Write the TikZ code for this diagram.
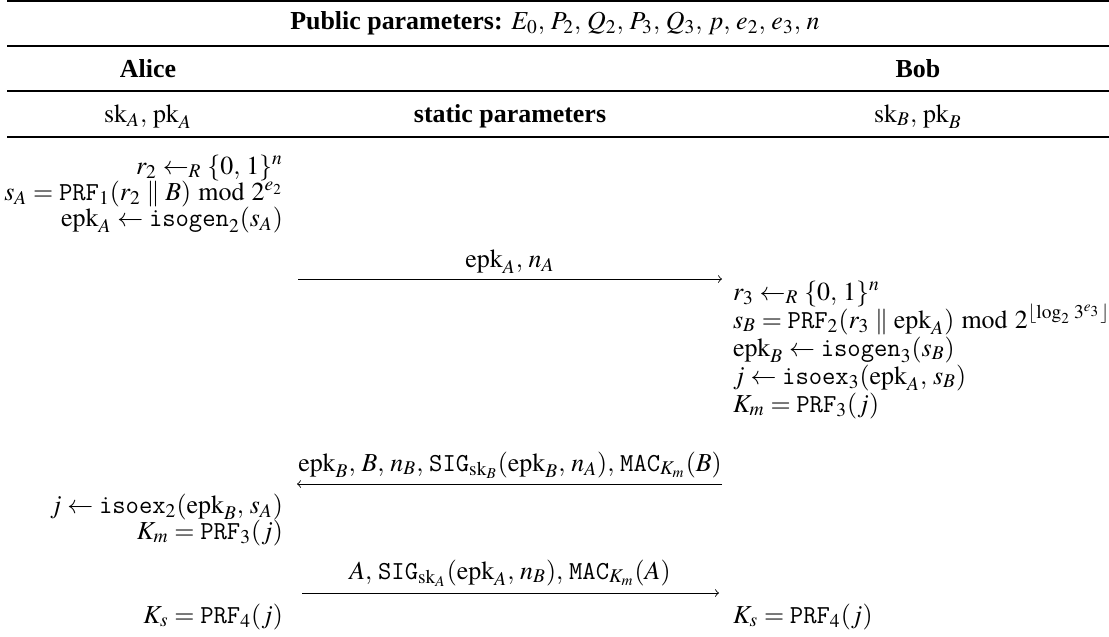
\documentclass[tikz,border=0pt]{standalone}
\usepackage{mathptmx}
\usepackage{fontspec}
\setmainfont{Liberation Serif}
\setmonofont{Latin Modern Mono}[Scale=1.1]
\newcommand{\tfn}[1]{\mathtt{#1}}
\newcommand{\rmn}[1]{\mathrm{#1}}
\newcommand{\commasp}{\thinmuskip=4mu\relax}
\begin{document}
\begin{tikzpicture}[
			x=0.463pt, y=-0.463pt,
			every node/.style={inner sep=0pt, outer sep=0pt, font=\fontsize{12}{12}\selectfont\commasp},
			ctr/.style={anchor=base},
			lft/.style={anchor=base east},
			rgt/.style={anchor=base west},
			toprl/.style={line width=0.8pt},
			midrl/.style={line width=0.5pt},
			msg/.style={->, line width=0.4pt},
		]
		\useasboundingbox (0,0) rectangle (1109,636);

		% rules
		\draw[toprl] (7,1) -- (1109,1);
		\draw[midrl] (7,46) -- (1109,46);
		\draw[midrl] (7,91) -- (1109,91);
		\draw[midrl] (7,137) -- (1109,137);

		% header
		\node[ctr] (pub) at (555,29) {\textbf{Public parameters:} $E_0, P_2, Q_2, P_3, Q_3, p, e_2, e_3, n$};
		\node[ctr] (alice) at (148,77) {\textbf{Alice}};
		\node[ctr] (bob) at (918,77) {\textbf{Bob}};
		\node[ctr] (skA) at (148,122) {$\rmn{sk}_A, \rmn{pk}_A$};
		\node[ctr] (stat) at (510,122) {\textbf{static parameters}};
		\node[ctr] (skB) at (918,122) {$\rmn{sk}_B, \rmn{pk}_B$};

		% Alice, first block
		\node[lft] (a1) at (283,174) {$r_2 \leftarrow_R \{0, 1\}^n$};
		\node[lft] (a2) at (283,200) {$s_A = \tfn{PRF}_1(r_2 \,\|\, B) \bmod 2^{e_2}$};
		\node[lft] (a3) at (283,226) {$\rmn{epk}_A \leftarrow \tfn{isogen}_2(s_A)$};

		% first message
		\coordinate (m1s) at (298,279);
		\coordinate (m1e) at (722,279);
		\node[ctr] (l1) at (510,267) {$\rmn{epk}_A, n_A$};
		\draw[msg] (m1s) -- (m1e);

		% Bob
		\node[rgt] (b1) at (733,300) {$r_3 \leftarrow_R \{0, 1\}^n$};
		\node[rgt] (b2) at (733,328) {$s_B = \tfn{PRF}_2(r_3 \,\|\, \rmn{epk}_A) \bmod 2^{\lfloor \log_2 3^{e_3} \rfloor}$};
		\node[rgt] (b3) at (733,356) {$\rmn{epk}_B \leftarrow \tfn{isogen}_3(s_B)$};
		\node[rgt] (b4) at (733,384) {$j \leftarrow \tfn{isoex}_3(\rmn{epk}_A, s_B)$};
		\node[rgt] (b5) at (733,412) {$K_m = \tfn{PRF}_3(j)$};

		% second message
		\coordinate (m2s) at (722,484);
		\coordinate (m2e) at (297,484);
		\node[ctr] (l2) at (510,471) {$\rmn{epk}_B, B, n_B, \tfn{SIG}_{\rmn{sk}_B}(\rmn{epk}_B, n_A), \tfn{MAC}_{K_m}(B)$};
		\draw[msg] (m2s) -- (m2e);

		% Alice, second block
		\node[lft] (a4) at (283,513) {$j \leftarrow \tfn{isoex}_2(\rmn{epk}_B, s_A)$};
		\node[lft] (a5) at (283,539) {$K_m = \tfn{PRF}_3(j)$};

		% third message
		\coordinate (m3s) at (302,593);
		\coordinate (m3e) at (719,593);
		\node[ctr] (l3) at (510,579) {$A, \tfn{SIG}_{\rmn{sk}_A}(\rmn{epk}_A, n_B), \tfn{MAC}_{K_m}(A)$};
		\draw[msg] (m3s) -- (m3e);

		% session keys
		\node[lft] (a6) at (283,623) {$K_s = \tfn{PRF}_4(j)$};
		\node[rgt] (b6) at (733,623) {$K_s = \tfn{PRF}_4(j)$};
	\end{tikzpicture}
\end{document}
